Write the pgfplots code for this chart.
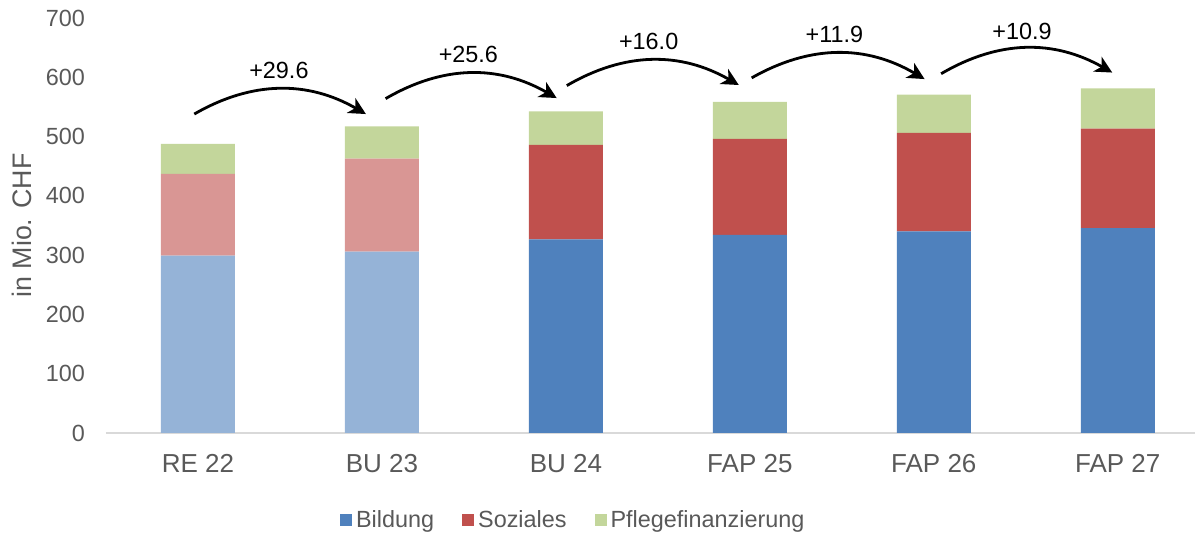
\documentclass[border=0pt]{standalone}
\usepackage{pgfplots}
\pgfplotsset{compat=1.18}
\usepackage{fontspec}
\setmainfont{Liberation Sans}
\usetikzlibrary{arrows.meta}
\definecolor{bild}{HTML}{4F81BD}
\definecolor{bildl}{HTML}{95B3D7}
\definecolor{soz}{HTML}{C0504D}
\definecolor{sozl}{HTML}{D99694}
\definecolor{pfl}{HTML}{C3D69B}
\definecolor{txt}{HTML}{595959}
\definecolor{axl}{HTML}{D9D9D9}
\pgfplotsset{sqlegend/.style={legend image code/.code={\fill[##1] (0pt,-3pt) rectangle (6pt,3pt);}}}
\tikzset{chg/.style={line width=1.4pt, -{Stealth[length=8.5pt,width=8.5pt,inset=2.5pt]}}}
\begin{document}
\begin{tikzpicture}
\begin{axis}[
  at={(0,0)}, anchor=south west,
  scale only axis, width=544.5pt, height=207.5pt,
  ybar stacked, bar width=37pt,
  xmin=-0.5, xmax=5.42, ymin=0, ymax=700,
  ytick={0,100,...,700},
  xtick={0,...,5},
  xticklabels={RE 22,BU 23,BU 24,FAP 25,FAP 26,FAP 27},
  major tick length=0pt,
  axis lines*=left,
  axis line style={-},
  y axis line style={draw=none},
  x axis line style={draw=axl, line width=1pt},
  clip=false,
  /pgf/number format/assume math mode=true,
  yticklabel style={font=\fontsize{11.7}{14}\selectfont, text=txt, xshift=-7pt},
  xticklabel style={font=\fontsize{13}{15}\selectfont, text=txt, yshift=-7pt},
  ylabel={in Mio. CHF},
  ylabel style={at={(axis description cs:-0.0771,0.5)}, anchor=center, font=\fontsize{13.4}{15}\selectfont, text=txt},
  legend style={at={(axis description cs:0.43,-0.21)}, anchor=center, draw=none,
    font=\fontsize{11.7}{14}\selectfont, text=txt,
    /tikz/every odd column/.append style={column sep=0pt},
    /tikz/every even column/.append style={column sep=12pt}},
  legend columns=-1,
]
\addlegendimage{sqlegend, fill=bild, draw=none}
\addlegendentry{Bildung}
\addlegendimage{sqlegend, fill=soz, draw=none}
\addlegendentry{Soziales}
\addlegendimage{sqlegend, fill=pfl, draw=none}
\addlegendentry{Pflegefinanzierung}
\addplot[forget plot, fill=bildl, draw=none] coordinates {(0,299) (1,306) (2,0) (3,0) (4,0) (5,0)};
\addplot[forget plot, fill=bild, draw=none] coordinates {(0,0) (1,0) (2,326.6) (3,334.4) (4,340) (5,345.7)};
\addplot[forget plot, fill=sozl, draw=none] coordinates {(0,138) (1,156.6) (2,0) (3,0) (4,0) (5,0)};
\addplot[forget plot, fill=soz, draw=none] coordinates {(0,0) (1,0) (2,159.4) (3,161.9) (4,166.4) (5,167.6)};
\addplot[forget plot, fill=pfl, draw=none] coordinates {(0,50.5) (1,54.5) (2,56.7) (3,62.4) (4,64.2) (5,68.2)};

\draw[chg] (axis cs:-0.02,538) to[bend left=30] (axis cs:0.913,538);
\draw[chg] (axis cs:1.02,564) to[bend left=30] (axis cs:1.95,565);
\draw[chg] (axis cs:2.005,586) to[bend left=30] (axis cs:2.94,587);
\draw[chg] (axis cs:3.01,599) to[bend left=30] (axis cs:3.95,597);
\draw[chg] (axis cs:4.04,606) to[bend left=30] (axis cs:4.97,608);
\node[font=\fontsize{11.7}{14}\selectfont] at (axis cs:0.44,611) {+29.6};
\node[font=\fontsize{11.7}{14}\selectfont] at (axis cs:1.47,638) {+25.6};
\node[font=\fontsize{11.7}{14}\selectfont] at (axis cs:2.45,660) {+16.0};
\node[font=\fontsize{11.7}{14}\selectfont] at (axis cs:3.46,672) {+11.9};
\node[font=\fontsize{11.7}{14}\selectfont] at (axis cs:4.48,677) {+10.9};
\end{axis}
\pgfresetboundingbox
\path (-53pt,-50.5pt) rectangle (544.5pt,216.5pt);
\end{tikzpicture}
\end{document}
